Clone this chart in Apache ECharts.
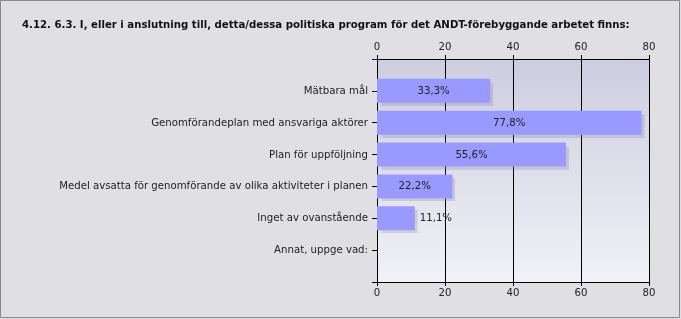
<!DOCTYPE html>
<html><head><meta charset="utf-8">
<script src="https://cdn.jsdelivr.net/npm/echarts@6/dist/echarts.min.js"></script>
<style>html,body{margin:0;padding:0;background:#e0e0e4;}#c{width:681px;height:319px;}</style>
</head><body><div id="c"></div>
<script>
const titleText = '4.12. 6.3. I, eller i anslutning till, detta/dessa politiska program för det ANDT-förebyggande arbetet finns:';
const categories = ['Mätbara mål','Genomförandeplan med ansvariga aktörer','Plan för uppföljning','Medel avsatta för genomförande av olika aktiviteter i planen','Inget av ovanstående','Annat, uppge vad:'];
const values = [33.3, 77.8, 55.6, 22.2, 11.1, 0];
const ticks = [0, 20, 40, 60, 80];

const FONT = '"DejaVu Sans Condensed"';
const paddedCats = [''].concat(categories, ['']);
const paddedVals = [null].concat(values, [null]);
const fmt = v => v.toFixed(1).replace('.', ',') + '%';

const chart = echarts.init(document.getElementById('c'), null, {renderer:'canvas'});
const axisCommon = {
  type:'value', min:ticks[0], max:ticks[ticks.length-1], interval:ticks[1]-ticks[0],
  axisLine:{show:true, lineStyle:{color:'#000', width:1}},
  axisTick:{show:true, length:4, lineStyle:{color:'#000'}},
  axisLabel:{color:'#222', fontFamily:FONT, fontSize:11.3, margin:6}
};
chart.setOption({
  animation:false,
  backgroundColor:'#e0e0e4',
  title:{text:titleText, left:17, top:15, textStyle:{fontFamily:FONT, fontWeight:'bold', fontSize:11.3, color:'#111'}},
  grid:{left:377, right:32, top:59, bottom:37, show:true, borderWidth:0,
    backgroundColor:{type:'linear', x:0, y:0, x2:0, y2:1, colorStops:[{offset:0,color:'#cdcde0'},{offset:1,color:'#f1f1f7'}]}},
  xAxis:[
    Object.assign({}, axisCommon, {position:'top', splitLine:{show:true, lineStyle:{color:'#000', width:1}}}),
    Object.assign({}, axisCommon, {position:'bottom', splitLine:{show:false}})
  ],
  yAxis:{type:'category', data:paddedCats, inverse:true, boundaryGap:false,
    axisLine:{show:true, lineStyle:{color:'#000'}},
    axisTick:{show:true, length:5, lineStyle:{color:'#000'}},
    axisLabel:{color:'#222', fontFamily:FONT, fontSize:11.3, margin:9, interval:0},
    splitLine:{show:false}},
  graphic:[{type:'rect', shape:{x:0.5,y:0.5,width:679,height:317}, style:{fill:null, stroke:'#8a8a8a', lineWidth:1}, silent:true, z:100}],
  series:[{
    type:'bar', xAxisIndex:0, barWidth:24,
    data:paddedVals.map(v => v == null ? null : {value:v, label:{position: v >= 20 ? 'inside' : 'right'}}),
    itemStyle:{color:'#9999ff', shadowColor:'rgba(120,120,150,0.25)', shadowOffsetX:3, shadowOffsetY:3, shadowBlur:1},
    label:{show:true, formatter:p => p.value > 0 ? fmt(p.value) : '', color:'#222', fontFamily:FONT, fontSize:11.3, distance:5}
  }]
});
</script></body></html>
